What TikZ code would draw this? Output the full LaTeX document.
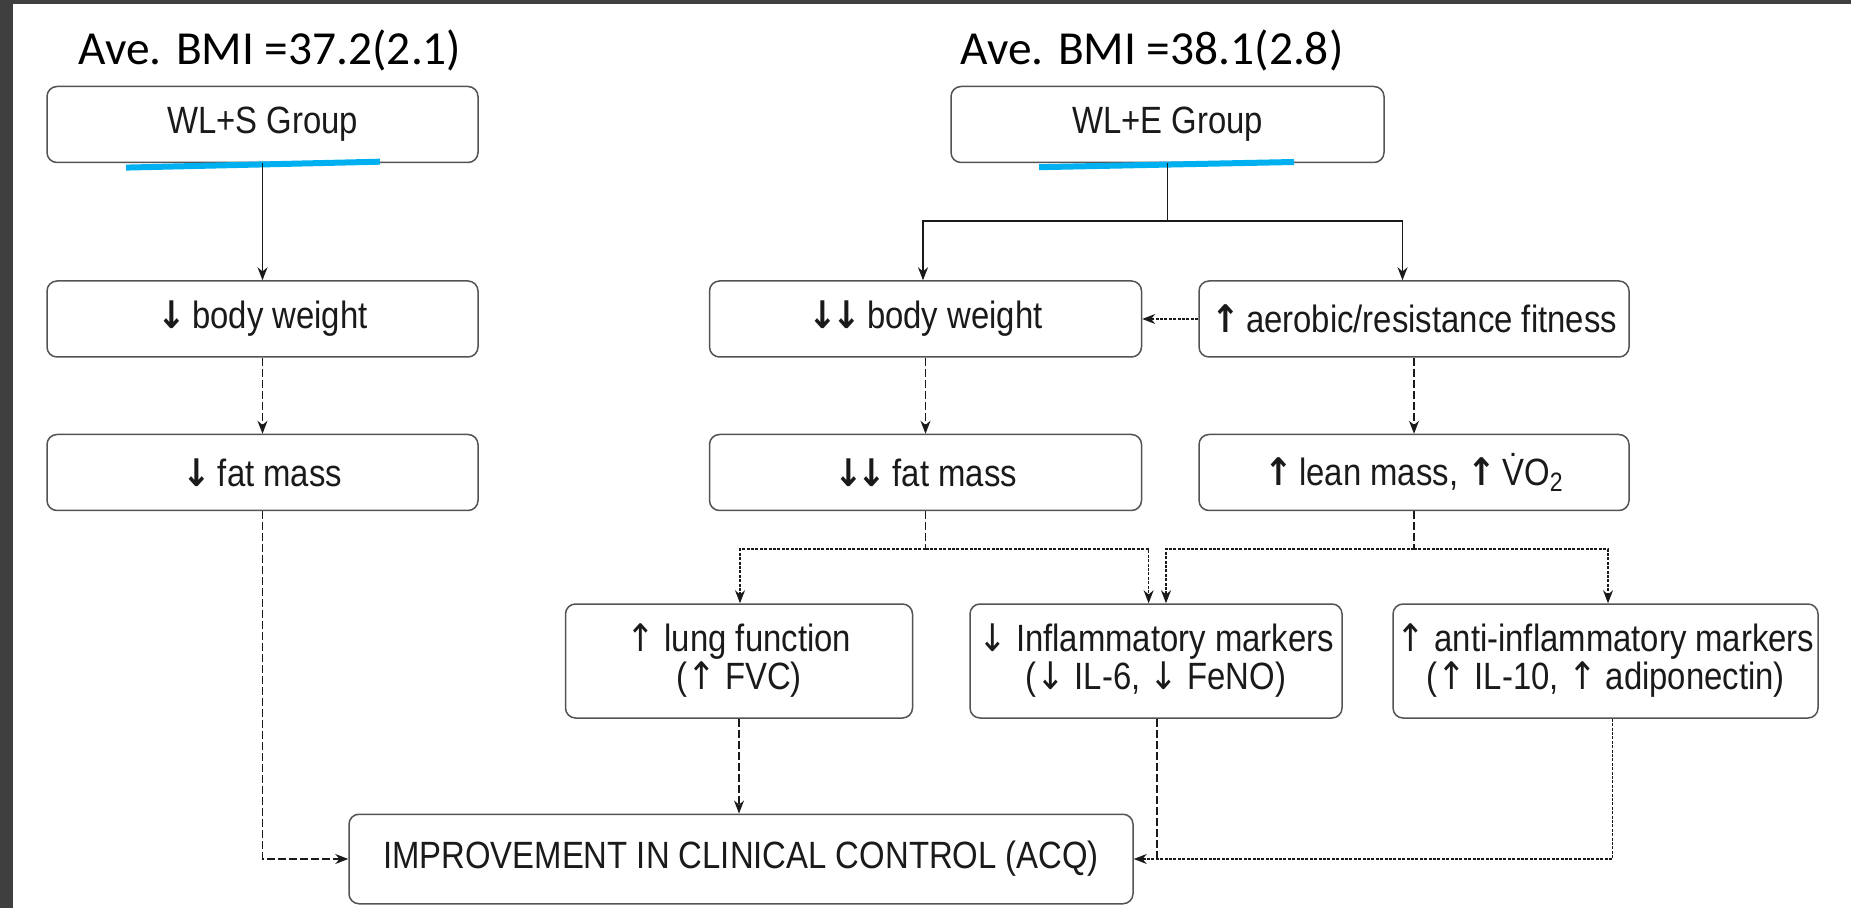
\documentclass[tikz,border=0pt]{standalone}
\usepackage{fontspec}
\setmainfont{Liberation Sans}[FakeStretch=0.865]
\newfontfamily\bmifont{Carlito}
\newfontfamily\arrfont{DejaVu Sans}[FakeStretch=0.9]
\usetikzlibrary{arrows.meta}
\definecolor{framegray}{HTML}{3F3F3F}
\definecolor{hlblue}{HTML}{00B0F0}
\definecolor{ink}{HTML}{1A1A1A}
\newcommand{\bdn}{{\arrfont\bfseries ↓}}
\newcommand{\bup}{{\arrfont\bfseries ↑}}
\newcommand{\tdn}{{\arrfont ↓}}
\newcommand{\tup}{{\arrfont ↑}}
\begin{document}
\begin{tikzpicture}[x=0.5pt,y=-0.5pt,
  box/.style={draw=ink!75, line width=0.75pt, rounded corners=5pt, fill=white,
    align=center, text=ink, font=\fontsize{19}{19}\selectfont, inner sep=0pt},
  onebox/.style={box, minimum height=38pt},
  twobox/.style={box, minimum height=57pt},
  bmi/.style={font=\bmifont\fontsize{23.7}{28}\selectfont, text=black, inner sep=0pt},
  sol/.style={draw=ink, line width=0.7pt},
  solarr/.style={sol, -{Stealth[length=6.5pt,width=5pt]}},
  dsh/.style={draw=ink, line width=0.6pt, dash pattern=on 4pt off 1.5pt},
  dsharr/.style={dsh, -{Stealth[length=6.5pt,width=5pt]}},
  dotarr/.style={draw=ink, line width=0.6pt, dash pattern=on 1.5pt off 0.7pt, -{Stealth[length=6.5pt,width=5pt]}},
  hl/.style={draw=hlblue, line width=3pt}
]
\useasboundingbox (0,0) rectangle (1851,908);
\fill[framegray] (0,0) rectangle (1851,908);
\fill[white] (13,4) rectangle (1851,908);

% titles
\node[bmi] (bmi1) at (270,50) {Ave. BMI =37.2(2.1)};
\node[bmi] (bmi2) at (1152,50) {Ave. BMI =38.1(2.8)};

% boxes
\node[onebox, minimum width=215.5pt] (s1) at (262.5,124.5) {WL+S Group};
\node[onebox, minimum width=216.5pt] (e1) at (1167.5,124.5) {WL+E Group};
\node[onebox, minimum width=215.5pt] (s2) at (262.5,319) {\bdn\,body weight};
\node[onebox, minimum width=215.5pt] (s3) at (262.5,472.5) {\bdn\,fat mass};
\node[onebox, minimum width=216pt] (e2) at (925.5,319) {\bdn\kern-2.5pt\bdn\,body weight};
\node[onebox, minimum width=215pt] (f2) at (1414,319) {\bup\,aerobic/resistance fitness};
\node[onebox, minimum width=216pt] (e3) at (925.5,472.5) {\bdn\kern-2.5pt\bdn\,fat mass};
\node[onebox, minimum width=215pt] (f3) at (1414,472.5) {\bup\,lean mass, \bup\,\.{V}O\textsubscript{2}};
\node[twobox, minimum width=173.5pt] (lung) at (739,661) {\tup\ lung function\\(\tup\ FVC)};
\node[twobox, minimum width=186pt] (infl) at (1156,661) {\tdn\ Inflammatory markers\\(\tdn\ IL-6, \tdn\ FeNO)};
\node[twobox, minimum width=212.5pt] (anti) at (1605.5,661) {\tup\ anti-inflammatory markers\\(\tup\ IL-10, \tup\ adiponectin)};
\node[box, minimum width=392pt, minimum height=44.75pt] (impr) at (741,859) {IMPROVEMENT IN CLINICAL CONTROL (ACQ)};

% blue highlight lines
\draw[hl] (126,167.6) -- (380,161.7);
\draw[hl] (1039,167.2) -- (1294,162);

% WL+S chain
\draw[solarr] (s1.south) -- (s2.north);
\draw[dsharr] (s2.south) -- (s3.north);
\draw[dsharr] (s3.south) |- (impr.west);

% WL+E split
\coordinate (sp) at (1167.5,221);
\coordinate (spL) at (923,221);
\coordinate (spR) at (1402.5,221);
\draw[sol] (e1.south) -- (sp);
\draw[solarr] (sp) -- (spL) -- (spL |- e2.north);
\draw[solarr] (sp) -- (spR) -- (spR |- f2.north);
\draw[dotarr] (f2.west) -- (e2.east);
\draw[dsharr] (e2.south) -- (e3.north);
\draw[dsharr] (f3.north |- f2.south) -- (f3.north);

% fat mass branch
\coordinate (fa) at (925.5,549);
\coordinate (faL) at (740,549);
\coordinate (faR) at (1148.6,549);
\draw[dsh] (e3.south) -- (fa);
\draw[dotarr] (fa) -- (faL) -- (faL |- lung.north);
\draw[dotarr] (fa) -- (faR) -- (faR |- infl.north);

% lean mass branch
\coordinate (la) at (1414,549);
\coordinate (laL) at (1166,549);
\coordinate (laR) at (1608,549);
\draw[dsh] (f3.south) -- (la);
\draw[dotarr] (la) -- (laL) -- (laL |- infl.north);
\draw[dotarr] (la) -- (laR) -- (laR |- anti.north);

% to improvement
\draw[dsharr] (lung.south) -- (lung.south |- impr.north);
\coordinate (ij) at (1157,859);
\draw[dsh] ([xshift=0.5pt]infl.south) -- (ij);
\draw[dotarr] ([xshift=3.5pt]anti.south) |- (impr.east);
\end{tikzpicture}
\end{document}
